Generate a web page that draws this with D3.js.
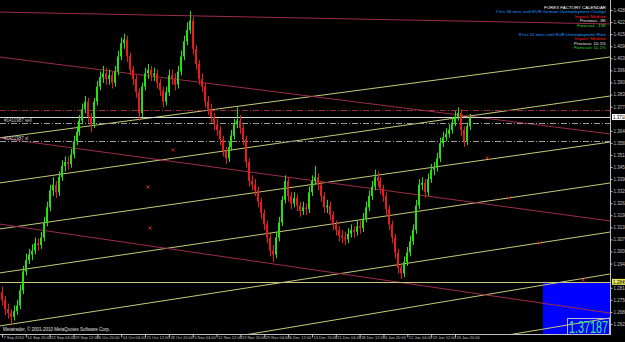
<!DOCTYPE html>
<html>
<head>
<meta charset="utf-8">
<script src="https://cdn.jsdelivr.net/npm/d3@7"></script>
<style>
  html, body { margin: 0; padding: 0; background: #000; overflow: hidden; }
  svg { display: block; font-family: "Liberation Sans", Arial, sans-serif; }
</style>
</head>
<body>
<div id="chart"></div>
<script>
// ---------- data ----------
const firstOpen = 1.2790;
const closes = [1.2750,1.2700,1.2680,1.2660,1.2690,1.2720,1.2800,1.2900,1.2960,1.2990,
 1.3010,1.3050,1.3040,1.3080,1.3160,1.3240,1.3330,1.3360,1.3320,1.3400,
 1.3460,1.3480,1.3470,1.3520,1.3590,1.3640,1.3700,1.3760,1.3800,1.3720,
 1.3680,1.3800,1.3880,1.3930,1.3950,1.3920,1.3940,1.3900,1.3960,1.4040,
 1.4110,1.4130,1.4040,1.3970,1.3920,1.3850,1.3740,1.3880,1.3950,1.3970,
 1.3940,1.3950,1.3900,1.3860,1.3800,1.3850,1.3940,1.3920,1.3890,1.3960,
 1.4040,1.4120,1.4180,1.4230,1.4080,1.4000,1.3920,1.3880,1.3800,1.3760,
 1.3720,1.3680,1.3650,1.3600,1.3540,1.3500,1.3560,1.3620,1.3680,1.3700,
 1.3660,1.3600,1.3480,1.3380,1.3360,1.3330,1.3270,1.3210,1.3150,1.3080,
 1.3010,1.2990,1.3080,1.3160,1.3280,1.3380,1.3300,1.3260,1.3290,1.3250,
 1.3220,1.3240,1.3230,1.3320,1.3380,1.3400,1.3360,1.3300,1.3240,1.3250,
 1.3200,1.3150,1.3120,1.3090,1.3080,1.3070,1.3100,1.3120,1.3110,1.3140,
 1.3130,1.3180,1.3240,1.3300,1.3350,1.3400,1.3380,1.3340,1.3300,1.3230,
 1.3150,1.3080,1.3000,1.2920,1.2890,1.2950,1.3000,1.3060,1.3120,1.3250,
 1.3360,1.3370,1.3320,1.3390,1.3440,1.3450,1.3500,1.3580,1.3610,1.3630,
 1.3650,1.3690,1.3720,1.3740,1.3650,1.3590,1.3670,1.37187];
const highs = [1.2820,1.2770,1.2730,1.2700,1.2720,1.2750,1.2830,1.2930,1.2995,1.3020,
 1.3045,1.3080,1.3075,1.3110,1.3190,1.3270,1.3360,1.3400,1.3380,1.3430,
 1.3490,1.3510,1.3510,1.3550,1.3620,1.3670,1.3730,1.3790,1.3830,1.3820,
 1.3740,1.3820,1.3910,1.3960,1.3990,1.3980,1.3970,1.3960,1.3990,1.4070,
 1.4140,1.4160,1.4150,1.4060,1.3990,1.3940,1.3870,1.3900,1.3980,1.4000,
 1.3990,1.3980,1.3970,1.3920,1.3880,1.3880,1.3970,1.3970,1.3950,1.3990,
 1.4070,1.4150,1.4220,1.4282,1.4250,1.4100,1.4020,1.3950,1.3900,1.3830,
 1.3790,1.3740,1.3710,1.3670,1.3620,1.3560,1.3590,1.3650,1.3710,1.3770,
 1.3730,1.3680,1.3620,1.3500,1.3410,1.3390,1.3350,1.3290,1.3230,1.3170,
 1.3100,1.3040,1.3110,1.3190,1.3300,1.3410,1.3400,1.3320,1.3320,1.3310,
 1.3270,1.3270,1.3260,1.3350,1.3410,1.3460,1.3420,1.3380,1.3320,1.3280,
 1.3270,1.3220,1.3170,1.3140,1.3120,1.3110,1.3130,1.3150,1.3140,1.3170,
 1.3170,1.3210,1.3270,1.3330,1.3380,1.3440,1.3430,1.3400,1.3360,1.3320,
 1.3250,1.3170,1.3100,1.3020,1.2940,1.2980,1.3030,1.3090,1.3150,1.3280,
 1.3390,1.3400,1.3390,1.3420,1.3470,1.3480,1.3530,1.3610,1.3640,1.3660,
 1.3680,1.3720,1.3750,1.3770,1.3760,1.3670,1.3690,1.3735];
const lows = [1.2720,1.2670,1.2650,1.2625,1.2640,1.2670,1.2700,1.2780,1.2880,1.2940,
 1.2960,1.2990,1.3010,1.3020,1.3060,1.3140,1.3220,1.3300,1.3290,1.3300,
 1.3380,1.3430,1.3440,1.3450,1.3500,1.3570,1.3620,1.3680,1.3740,1.3690,
 1.3640,1.3660,1.3780,1.3860,1.3900,1.3890,1.3890,1.3870,1.3880,1.3940,
 1.4020,1.4080,1.4010,1.3940,1.3890,1.3820,1.3700,1.3720,1.3860,1.3920,
 1.3910,1.3910,1.3870,1.3830,1.3770,1.3780,1.3830,1.3890,1.3860,1.3870,
 1.3940,1.4020,1.4100,1.4160,1.4050,1.3970,1.3890,1.3850,1.3770,1.3730,
 1.3690,1.3650,1.3620,1.3570,1.3510,1.3470,1.3480,1.3540,1.3600,1.3660,
 1.3630,1.3570,1.3450,1.3350,1.3330,1.3300,1.3240,1.3180,1.3120,1.3050,
 1.2980,1.2950,1.2970,1.3060,1.3140,1.3260,1.3270,1.3230,1.3240,1.3220,
 1.3190,1.3200,1.3200,1.3210,1.3300,1.3360,1.3330,1.3270,1.3210,1.3210,
 1.3170,1.3120,1.3090,1.3060,1.3050,1.3040,1.3050,1.3080,1.3080,1.3090,
 1.3100,1.3110,1.3160,1.3220,1.3280,1.3330,1.3350,1.3310,1.3270,1.3200,
 1.3120,1.3050,1.2970,1.2890,1.2860,1.2870,1.2930,1.2980,1.3040,1.3100,
 1.3230,1.3330,1.3290,1.3300,1.3370,1.3410,1.3430,1.3480,1.3560,1.3590,
 1.3610,1.3630,1.3670,1.3700,1.3620,1.3560,1.3570,1.3650];

const timeLabels = ["7 Sep 2010","14 Sep 20:00","22 Sep 04:00","29 Sep 12:00","6 Oct 20:00",
  "14 Oct 04:00","21 Oct 12:00","28 Oct 20:00","5 Nov 04:00","12 Nov 12:00","19 Nov 20:00",
  "29 Nov 04:00","6 Dec 12:00","13 Dec 20:00","21 Dec 04:00","28 Dec 12:00","4 Jan 20:00",
  "12 Jan 04:00","19 Jan 12:00","26 Jan 20:00"];
const timeLabelBars = [0,8,16,24,32,40,48,56,64,72,80,88,96,104,112,120,128,136,144,152];

const priceTicks = [1.4286,1.4222,1.4158,1.4094,1.4030,1.3966,1.3902,1.3838,1.3774,
  1.3646,1.3582,1.3518,1.3454,1.3390,1.3326,1.3262,1.3198,1.3134,1.3070,1.3006,
  1.2942,1.2814,1.2750,1.2686,1.2622];

const bid = 1.37187;
const hLevel = 1.2845;

// trend lines: [barIndex1, price1, barIndex2, price2]
const channelLines = [
  [-1, 1.3608, 204, 1.4037],
  [-1, 1.3369, 204, 1.3830],
  [-1, 1.3125, 204, 1.3586],
  [-1, 1.2892, 204, 1.3369],
  [-1, 1.2611, 204, 1.3109],
  [-1, 1.2346, 204, 1.2887],
  [-1, 1.2113, 204, 1.2654]
];
const redLines = [
  [-1, 1.4275, 204, 1.4212],
  [-1, 1.4037, 204, 1.3629],
  [-1, 1.3608, 204, 1.3168],
  [-1, 1.3152, 204, 1.2680]
];
// horizontal order lines
const orderLevels = [
  { price: 1.3756, color: "#a02840" },
  { price: 1.3687, color: "#9a9a9a" },
  { price: 1.3592, color: "#9a9a9a" }
];
const orderLabels = [
  { price: 1.3687, text: "#1411987 sell" },
  { price: 1.3592, text: "#1411987 sl" }
];
const markers = [[57.4,1.3544],[49.0,1.3348],[49.7,1.3131],[162.8,1.3502],[170.1,1.3290],[180.5,1.3051],[195,1.2855]];
const boxStartBar = 181.5;

const calendar = [
  { text: "FOREX FACTORY CALENDAR", color: "#ffffff" },
  { text: "7 hrs 36 mins until EUR German Unemployment Change", color: "#1e9bff" },
  { text: "Impact: Medium", color: "#ff2020" },
  { text: "Previous: -9K", color: "#e8e8e8" },
  { text: "Forecast: -15K", color: "#33dd33" },
  { text: "", color: "#fff" },
  { text: "8 hrs 31 mins until EUR Unemployment Rate", color: "#1e9bff" },
  { text: "Impact: Medium", color: "#ff2020" },
  { text: "Previous: 10.1%", color: "#e8e8e8" },
  { text: "Forecast: 10.1%", color: "#33dd33" }
];

// ---------- setup ----------
const width = 625, height = 342;
const plotRight = 610, plotBottom = 334;

const svg = d3.select("#chart").append("svg")
  .attr("width", width).attr("height", height);

svg.append("rect").attr("width", width).attr("height", height).attr("fill", "#000");

const x = d3.scaleLinear().domain([0, 152]).range([2, 455]);
const y = d3.scaleLinear().domain([1.25688, 1.4339]).range([plotBottom, 0]);

svg.append("clipPath").attr("id", "plot")
  .append("rect").attr("width", plotRight).attr("height", plotBottom);

const plot = svg.append("g").attr("clip-path", "url(#plot)");

// blue rectangle object
plot.append("rect")
  .attr("x", x(boxStartBar)).attr("y", y(hLevel))
  .attr("width", plotRight - x(boxStartBar)).attr("height", plotBottom - y(hLevel))
  .attr("fill", "#0000ff");

// trend lines
plot.selectAll(".chan").data(channelLines).enter().append("line")
  .attr("x1", d => x(d[0])).attr("y1", d => y(d[1]))
  .attr("x2", d => x(d[2])).attr("y2", d => y(d[3]))
  .attr("stroke", "#c8c878").attr("stroke-width", 1);

plot.selectAll(".red").data(redLines).enter().append("line")
  .attr("x1", d => x(d[0])).attr("y1", d => y(d[1]))
  .attr("x2", d => x(d[2])).attr("y2", d => y(d[3]))
  .attr("stroke", "#9c2c4c").attr("stroke-width", 1);

// horizontal level
plot.append("line")
  .attr("x1", 0).attr("x2", plotRight)
  .attr("y1", Math.round(y(hLevel)) + 0.5).attr("y2", Math.round(y(hLevel)) + 0.5)
  .attr("stroke", "#c8c878");

plot.selectAll(".ord").data(orderLevels).enter().append("line")
  .attr("x1", 0).attr("x2", plotRight)
  .attr("y1", d => Math.round(y(d.price)) + 0.5).attr("y2", d => Math.round(y(d.price)) + 0.5)
  .attr("stroke", d => d.color)
  .attr("stroke-dasharray", "6,2,1,2");

// bid line
plot.append("line")
  .attr("x1", 0).attr("x2", plotRight)
  .attr("y1", Math.round(y(bid)) + 0.5).attr("y2", Math.round(y(bid)) + 0.5)
  .attr("stroke", "#d8d8d8");

plot.selectAll(".olab").data(orderLabels).enter().append("text")
  .attr("x", 4).attr("y", d => y(d.price) - 1)
  .attr("fill", "#c8c8c8").attr("font-size", 4.5)
  .text(d => d.text);

// candles
const bars = closes.map((c, i) => ({
  i, open: i === 0 ? firstOpen : closes[i - 1], close: c, high: highs[i], low: lows[i]
}));

const candle = plot.selectAll(".candle").data(bars).enter().append("g")
  .attr("fill", d => d.close >= d.open ? "#28e010" : "#e81c1c")
  .attr("stroke", "none");

candle.append("rect")
  .attr("x", d => Math.round(x(d.i)))
  .attr("y", d => y(d.high))
  .attr("width", 1)
  .attr("height", d => Math.max(1, y(d.low) - y(d.high)));

candle.append("rect")
  .attr("x", d => Math.round(x(d.i)) - 1)
  .attr("y", d => y(Math.max(d.open, d.close)))
  .attr("width", 2)
  .attr("height", d => Math.max(1, Math.abs(y(d.open) - y(d.close))));

// small red marks
plot.selectAll(".mk").data(markers).enter().append("path")
  .attr("d", d => {
    const px = x(d[0]), py = y(d[1]);
    return `M${px - 1.5},${py - 1.5}L${px + 1.5},${py + 1.5}M${px - 1.5},${py + 1.5}L${px + 1.5},${py - 1.5}`;
  })
  .attr("stroke", "#d02020").attr("stroke-width", 1);

// price box
plot.append("rect")
  .attr("x", 567.5).attr("y", 318.5).attr("width", 42).attr("height", 16)
  .attr("fill", "none").attr("stroke", "#b8b8d8");
plot.append("text")
  .attr("x", 569).attr("y", 332.5)
  .attr("font-size", 17).attr("fill", "#3cf07c")
  .attr("textLength", 39).attr("lengthAdjust", "spacingAndGlyphs")
  .text(bid.toFixed(5));

// copyright
plot.append("text")
  .attr("x", 3).attr("y", 331)
  .attr("fill", "#e0e0e0").attr("font-size", 4.5)
  .text("Metatrader, © 2001-2010 MetaQuotes Software Corp.");

// calendar text
svg.selectAll(".cal").data(calendar).enter().append("text")
  .attr("x", 606).attr("y", (d, i) => 8.5 + i * 4.5)
  .attr("text-anchor", "end")
  .attr("font-size", 4.4)
  .attr("fill", d => d.color)
  .text(d => d.text);

// ---------- axes ----------
const yAxis = d3.axisRight(y).tickValues(priceTicks).tickFormat(d3.format(".4f")).tickSize(2);
const gy = svg.append("g").attr("transform", `translate(${plotRight + 0.5},0)`).call(yAxis);
gy.select(".domain").remove();
gy.selectAll("line").attr("stroke", "#c0c0c0");
gy.selectAll("text").attr("fill", "#c0c0c0").attr("font-size", 4.5).attr("x", 3);

svg.append("line")
  .attr("x1", plotRight + 0.5).attr("x2", plotRight + 0.5)
  .attr("y1", 0).attr("y2", plotBottom + 1)
  .attr("stroke", "#c0c0c0");
svg.append("line")
  .attr("x1", 0).attr("x2", plotRight + 1)
  .attr("y1", plotBottom + 0.5).attr("y2", plotBottom + 0.5)
  .attr("stroke", "#c0c0c0");

// bid label and level label on the price scale
const priceTags = [
  { price: bid, bg: "#ffffff", text: "1.37187" },
  { price: hLevel, bg: "#e8e85a", text: hLevel.toFixed(4) }
];
const tags = svg.selectAll(".tag").data(priceTags).enter().append("g");
tags.append("rect")
  .attr("x", plotRight + 2).attr("y", d => y(d.price) - 3)
  .attr("width", width - plotRight - 2).attr("height", 6)
  .attr("fill", d => d.bg);
tags.append("text")
  .attr("x", plotRight + 3).attr("y", d => y(d.price) + 1.7)
  .attr("font-size", 4.5).attr("fill", "#000")
  .text(d => d.text);

const xAxis = d3.axisBottom(x).tickValues(timeLabelBars)
  .tickFormat((d, i) => timeLabels[i]).tickSize(3);
const gx = svg.append("g").attr("transform", `translate(0,${plotBottom + 0.5})`).call(xAxis);
gx.select(".domain").remove();
gx.selectAll("line").attr("stroke", "#c0c0c0");
gx.selectAll("text")
  .attr("fill", "#c0c0c0").attr("font-size", 4)
  .attr("text-anchor", "start").attr("dx", 1).attr("y", 1.5).attr("dy", "0.71em");
</script>
</body>
</html>
